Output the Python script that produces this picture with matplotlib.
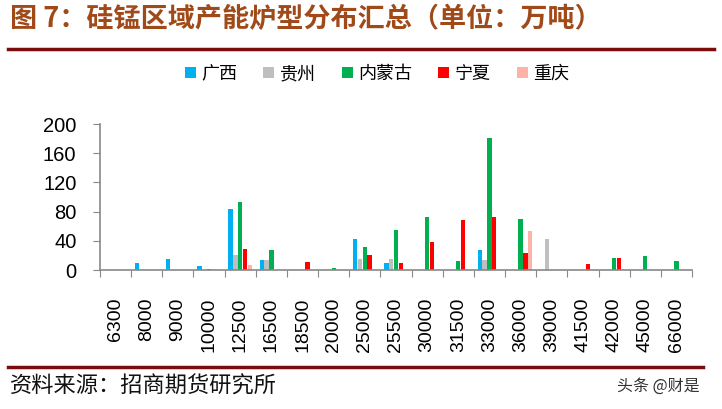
import numpy as np
import matplotlib
matplotlib.use("Agg")
import matplotlib.pyplot as plt
from matplotlib.patches import Patch
from matplotlib.lines import Line2D

plt.rcParams["font.family"] = ["Liberation Sans", "Noto Sans CJK SC", "DejaVu Sans"]
CJK = ["Noto Sans CJK SC", "DejaVu Sans"]

# ── data ─────────────────────────────────────────────────────────────────────
categories = ["6300", "8000", "9000", "10000", "12500", "16500", "18500",
              "20000", "25000", "25500", "30000", "31500", "33000", "36000",
              "39000", "41500", "42000", "45000", "66000"]
guangxi   = [0, 9, 15, 6, 84, 14, 0, 0, 43, 10, 0, 0, 28, 0, 0, 0, 0, 0, 0]
guizhou   = [0, 0, 0, 0, 21, 14, 0, 0, 15, 15, 0, 0, 14, 0, 42, 0, 0, 0, 0]
neimenggu = [0, 0, 0, 2, 93, 28, 0, 3, 32, 55, 72, 12, 181, 70, 0, 0, 17, 19, 13]
ningxia   = [0, 0, 0, 0, 29, 0, 11, 0, 21, 10, 38, 68, 72, 23, 0, 8, 17, 0, 0]
chongqing = [0, 0, 0, 0, 7, 0, 0, 0, 0, 0, 0, 0, 0, 54, 0, 0, 0, 0, 0]

series_names = ["广西", "贵州", "内蒙古", "宁夏", "重庆"]
series_vals = [guangxi, guizhou, neimenggu, ningxia, chongqing]
colors = ["#00B0F0", "#BFBFBF", "#00B050", "#FF0000", "#FFB3A7"]

W, H = 722, 409
fig = plt.figure(figsize=(W / 100, H / 100), dpi=100)

# ── title & rules ────────────────────────────────────────────────────────────
fig.text(10 / W, 1 - 19 / H, "图 7：硅锰区域产能炉型分布汇总（单位：万吨）",
         family=CJK, fontsize=19.5, fontweight="bold", color="#A04A1A",
         va="center", ha="left")
fig.add_artist(Line2D([8 / W, 714 / W], [1 - 49 / H, 1 - 49 / H],
                      color="#7B0C0C", lw=2.5))
fig.add_artist(Line2D([8 / W, 703 / W], [1 - 367 / H, 1 - 367 / H],
                      color="#7B0C0C", lw=2.5))
fig.text(10 / W, 1 - 386 / H, "资料来源：招商期货研究所", family=CJK,
         fontsize=16, color="#111111", va="center", ha="left")
fig.text(700 / W, 1 - 386 / H, "头条 @财是", family=CJK, fontsize=11.5,
         color="#333333", va="center", ha="right")

# ── axes ─────────────────────────────────────────────────────────────────────
ax = fig.add_axes([100 / W, 1 - 270 / H, 592 / W, 146 / H])
x = np.arange(len(categories))
step, width = 0.155, 0.14
for k, (vals, c) in enumerate(zip(series_vals, colors)):
    ax.bar(x + (k - 2) * step, vals, width=width, color=c, linewidth=0)

ax.set_xlim(-0.5, len(categories) - 0.5)
ax.set_ylim(0, 200)
ax.set_yticks([0, 40, 80, 120, 160, 200])
ax.tick_params(axis="y", labelsize=14.5, length=5, color="#888888", pad=12)

ax.set_xticks(np.arange(-0.5, len(categories), 1))
ax.set_xticklabels([])
ax.tick_params(axis="x", which="major", length=5, color="#888888")
ax.set_xticks(x, minor=True)
ax.set_xticklabels(categories, minor=True, rotation=90, fontsize=14)
ax.tick_params(axis="x", which="minor", length=0, pad=20)

for s in ["top", "right"]:
    ax.spines[s].set_visible(False)
for s in ["left", "bottom"]:
    ax.spines[s].set_color("#888888")
    ax.spines[s].set_linewidth(1.2)

handles = [Patch(facecolor=c, edgecolor="none") for c in colors]
fig.legend(handles, series_names, loc="center", ncol=5,
           bbox_to_anchor=(377 / W, 1 - 74 / H), frameon=False,
           prop={"family": CJK, "size": 13}, handlelength=0.6,
           handleheight=0.6, handletextpad=0.3, columnspacing=1.45)

fig.savefig("out.png", dpi=100)
